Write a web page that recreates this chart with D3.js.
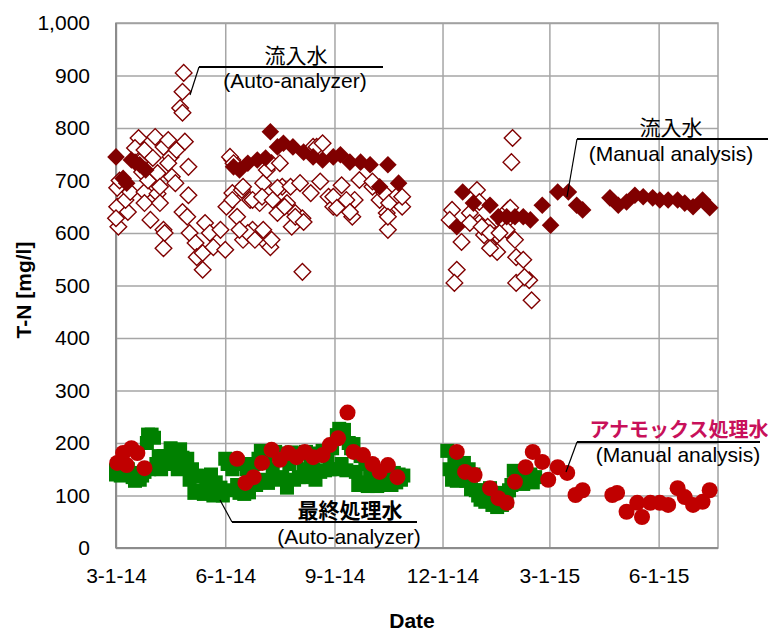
<!DOCTYPE html>
<html><head><meta charset="utf-8">
<script src="https://cdn.jsdelivr.net/npm/d3@7"></script>
<style>
html,body{margin:0;padding:0;background:#fff;}
svg{display:block;}
</style></head>
<body>
<svg id="chart" width="768" height="633"></svg>
<script>
// ---------------- DATA ----------------
const yTicks = [0,100,200,300,400,500,600,700,800,900,1000];
const xTickDates = ["2014-03-01","2014-06-01","2014-09-01","2014-12-01","2015-03-01","2015-06-01"];
const xDomain = ["2014-03-01","2015-07-21"];

// 流入水 (Auto-analyzer) – open diamonds
const influentAuto = [
 ["2014-03-02",686],["2014-03-02",650],["2014-03-03",612],["2014-03-01",628],["2014-03-04",700],["2014-03-11",640],
 ["2014-03-09",663],["2014-03-13",678],["2014-03-20",781],["2014-03-17",762],["2014-03-23",716],["2014-03-21",735],
 ["2014-03-25",758],["2014-03-25",678],["2014-03-25",657],["2014-03-30",625],["2014-03-28",700],["2014-04-01",743],
 ["2014-04-03",783],["2014-04-05",714],["2014-04-05",675],["2014-04-07",688],["2014-04-07",657],["2014-04-10",764],
 ["2014-04-10",606],["2014-04-10",571],["2014-04-11",600],["2014-04-14",777],["2014-04-16",745],["2014-04-14",733],
 ["2014-04-17",707],["2014-04-20",695],["2014-04-21",758],["2014-04-26",640],["2014-04-28",774],["2014-05-01",726],
 ["2014-05-01",672],["2014-04-30",631],["2014-05-02",600],["2014-05-07",581],["2014-05-08",554],["2014-05-13",530],
 ["2014-05-13",562],["2014-05-15",619],["2014-05-19",600],["2014-05-22",573],["2014-05-28",606],["2014-06-01",568],
 ["2014-06-02",650],["2014-06-07",676],["2014-06-07",739],["2014-06-05",745],["2014-06-08",733],["2014-06-15",682],
 ["2014-06-16",587],["2014-06-22",663],["2014-06-24",606],["2014-06-30",657],["2014-07-03",587],["2014-07-03",695],
 ["2014-07-09",573],["2014-04-27",905],["2014-04-26",869],["2014-04-24",838],["2014-04-26",829],
 ["2014-06-24",663],["2014-07-02",669],["2014-07-06",720],["2014-07-10",733],["2014-07-19",688],["2014-07-23",657],
 ["2014-07-30",638],["2014-07-27",612],["2014-08-05",628],["2014-08-05",526],["2014-08-14",764],["2014-08-20",698],
 ["2014-08-27",669],["2014-08-31",650],["2014-09-11",650],["2014-09-18",663],["2014-09-16",631],["2014-09-22",701],
 ["2014-10-03",688],["2014-10-09",663],["2014-10-15",638],["2014-10-16",606],["2014-10-23",663],["2014-06-20",600],
 ["2014-06-26",587],["2014-07-03",606],["2014-06-16",688],["2014-06-07",663],["2014-06-11",631],["2014-07-11",663],
 ["2014-07-15",638],["2014-08-17",764],["2014-08-22",771],["2014-08-12",676],["2014-06-13",606],["2014-07-17",733],
 ["2014-07-15",686],["2014-07-26",688],["2014-08-03",695],["2014-07-21",650],["2014-07-30",631],["2014-08-06",621],
 ["2014-08-31",669],["2014-09-07",691],["2014-09-11",663],["2014-09-03",648],["2014-09-14",640],["2014-10-03",698],
 ["2014-10-13",676],["2014-10-17",657],["2014-10-28",650],["2014-10-16",631],["2014-10-24",672],["2014-10-28",669],
 ["2014-07-10",587],
 ["2015-01-29",781],["2015-01-28",735],["2014-12-30",682],["2014-12-09",644],["2014-12-07",625],["2014-12-17",583],
 ["2014-12-13",530],["2014-12-11",505],["2014-12-24",638],["2015-01-01",619],["2015-01-05",596],["2015-01-11",573],
 ["2015-01-16",596],["2015-01-22",619],["2015-01-25",644],["2015-01-31",587],["2015-02-01",554],["2015-02-07",549],
 ["2015-02-12",510],["2015-02-01",505],["2015-02-14",472],["2015-02-08",516],["2014-12-24",619],["2015-01-08",612],
 ["2015-01-16",564],["2015-01-24",606],["2015-01-01",659],["2015-01-03",612],["2015-01-10",600],["2015-01-10",571],
 ["2015-01-18",600],["2015-01-27",648]
];

// 流入水 (Manual analysis) – filled diamonds
const influentManual = [
 ["2014-03-01",745],["2014-03-07",704],["2014-03-10",695],["2014-03-14",739],["2014-03-17",735],["2014-03-21",730],
 ["2014-03-26",720],
 ["2014-06-08",726],["2014-06-13",720],["2014-06-20",733],["2014-06-28",739],["2014-07-05",743],["2014-07-09",793],
 ["2014-07-15",764],["2014-07-20",771],["2014-07-28",764],["2014-08-06",754],["2014-08-14",745],["2014-08-22",739],
 ["2014-08-31",745],["2014-09-06",749],["2014-09-14",735],["2014-09-23",735],["2014-10-01",730],["2014-10-09",688],
 ["2014-10-16",730],["2014-10-25",695],
 ["2014-12-13",612],["2014-12-18",678],["2014-12-27",657],["2015-01-10",653],["2015-01-17",631],["2015-01-24",631],
 ["2015-01-31",631],["2015-02-07",631],["2015-02-13",625],["2015-02-23",653],["2015-03-02",615],["2015-03-08",678],
 ["2015-03-17",678],["2015-03-24",653],["2015-03-29",644],["2015-04-21",667],["2015-04-28",653],["2015-05-05",659],
 ["2015-05-12",672],["2015-05-19",669],["2015-05-27",667],["2015-06-02",663],["2015-06-09",663],["2015-06-17",663],
 ["2015-06-23",657],["2015-06-30",650],["2015-07-08",663],["2015-07-14",648]
];

// 最終処理水 (Auto-analyzer) – green squares
const finalAuto = [
 ["2014-03-01",140],["2014-03-01",148],["2014-03-03",142],["2014-03-05",138],["2014-03-07",145],["2014-03-09",140],
 ["2014-03-11",150],["2014-03-13",143],["2014-03-15",135],["2014-03-17",128],["2014-03-19",132],["2014-03-21",130],
 ["2014-03-23",138],["2014-03-25",145],["2014-03-27",200],["2014-03-28",216],["2014-03-29",150],["2014-03-31",216],
 ["2014-04-02",210],["2014-04-04",160],["2014-04-06",175],["2014-04-08",150],["2014-04-10",175],["2014-04-12",170],
 ["2014-04-14",160],["2014-04-16",190],["2014-04-18",185],["2014-04-20",165],["2014-04-22",150],["2014-04-24",188],
 ["2014-04-26",172],["2014-04-28",155],["2014-04-30",170],["2014-05-02",130],["2014-05-04",150],["2014-05-06",105],
 ["2014-05-08",138],["2014-05-10",110],["2014-05-12",137],["2014-05-14",103],["2014-05-16",130],["2014-05-18",108],
 ["2014-05-20",140],["2014-05-22",100],["2014-05-24",125],["2014-05-26",103],["2014-05-28",115],["2014-05-30",100],
 ["2014-06-01",170],["2014-06-03",160],["2014-06-05",110],["2014-06-07",150],["2014-06-09",168],["2014-06-11",120],
 ["2014-06-13",105],["2014-06-15",160],["2014-06-17",103],["2014-06-19",150],["2014-06-21",106],["2014-06-23",130],
 ["2014-06-25",160],["2014-06-27",120],["2014-06-29",170],["2014-07-01",185],["2014-07-03",130],["2014-07-05",175],
 ["2014-07-07",124],["2014-07-09",180],["2014-07-11",150],["2014-07-13",183],["2014-07-15",130],["2014-07-17",170],
 ["2014-07-19",135],["2014-07-21",180],["2014-07-23",115],["2014-07-25",160],["2014-07-27",182],["2014-07-29",130],
 ["2014-07-31",175],["2014-08-02",135],["2014-08-04",180],["2014-08-06",150],["2014-08-08",183],["2014-08-10",135],
 ["2014-08-12",175],["2014-08-14",150],["2014-08-16",130],["2014-08-18",180],["2014-08-20",145],["2014-08-22",185],
 ["2014-08-24",148],["2014-08-26",175],["2014-08-28",150],["2014-08-30",190],["2014-09-01",150],["2014-09-03",215],
 ["2014-09-05",227],["2014-09-07",160],["2014-09-09",225],["2014-09-11",148],["2014-09-13",200],["2014-09-15",190],
 ["2014-09-17",198],["2014-09-19",145],["2014-09-21",120],["2014-09-23",175],["2014-09-25",125],["2014-09-27",160],
 ["2014-09-29",118],["2014-10-01",150],["2014-10-03",120],["2014-10-05",140],["2014-10-07",118],["2014-10-09",130],
 ["2014-10-11",120],["2014-10-13",143],["2014-10-15",125],["2014-10-17",135],["2014-10-19",120],["2014-10-21",143],
 ["2014-10-23",125],["2014-10-25",140],["2014-10-27",130],["2014-10-29",138],
 ["2014-12-05",185],["2014-12-07",150],["2014-12-09",130],["2014-12-11",175],["2014-12-13",128],["2014-12-15",160],
 ["2014-12-17",140],["2014-12-19",162],["2014-12-21",128],["2014-12-23",150],["2014-12-25",112],["2014-12-27",140],
 ["2014-12-29",110],["2014-12-31",100],["2015-01-02",92],["2015-01-04",110],["2015-01-06",88],["2015-01-08",100],
 ["2015-01-10",114],["2015-01-12",82],["2015-01-14",95],["2015-01-16",78],["2015-01-18",105],["2015-01-20",82],
 ["2015-01-22",100],["2015-01-24",90],["2015-01-26",110],["2015-01-28",120],["2015-01-30",147],["2015-02-01",125],
 ["2015-02-03",145],["2015-02-05",130],["2015-02-07",122],["2015-02-09",145],["2015-02-11",130],["2015-02-13",140],
 ["2015-02-15",125],["2015-02-17",135]
];

// アナモックス処理水 (Manual analysis) – red circles
const anammoxManual = [
 ["2014-03-02",162],["2014-03-07",181],["2014-03-10",158],["2014-03-14",190],["2014-03-19",181],["2014-03-25",152],
 ["2014-06-11",170],["2014-06-18",124],["2014-06-25",135],["2014-07-02",162],["2014-07-10",187],["2014-07-17",168],
 ["2014-07-24",181],["2014-07-31",173],["2014-08-07",183],["2014-08-14",173],["2014-08-22",177],["2014-08-28",196],
 ["2014-09-04",209],["2014-09-12",258],["2014-09-17",183],["2014-09-25",177],["2014-10-03",160],["2014-10-09",145],
 ["2014-10-16",158],["2014-10-24",135],
 ["2014-12-13",183],["2014-12-20",145],["2014-12-28",139],["2015-01-10",114],["2015-01-17",95],["2015-01-24",86],
 ["2015-01-31",126],["2015-02-09",154],["2015-02-15",183],["2015-02-23",164],["2015-02-28",130],["2015-03-08",154],
 ["2015-03-16",143],["2015-03-23",101],["2015-03-29",110],["2015-04-23",101],["2015-04-27",105],["2015-05-05",69],
 ["2015-05-14",86],["2015-05-18",59],["2015-05-25",86],["2015-06-02",86],["2015-06-09",82],["2015-06-17",114],
 ["2015-06-23",97],["2015-06-30",82],["2015-07-08",88],["2015-07-14",110]
];

// ---------------- DRAW ----------------
const parse = d3.timeParse("%Y-%m-%d");
const svg = d3.select("#chart");
const M = {left:116, right:718, top:23, bottom:548};

const x = d3.scaleTime().domain(xDomain.map(parse)).range([M.left, M.right]);
const y = d3.scaleLinear().domain([0,1000]).range([M.bottom, M.top]);

const font = "'Liberation Sans', Arial, 'Noto Sans CJK JP', sans-serif";
const jfont = "'Noto Sans CJK JP', 'Liberation Sans', sans-serif";
const gridCol = "#a6a6a6";

// gridlines
const gy = svg.append("g").attr("transform",`translate(${M.left},0)`)
  .call(d3.axisLeft(y).tickValues(yTicks).tickSize(-(M.right-M.left)).tickFormat(""));
gy.select(".domain").remove();
gy.selectAll("line").attr("stroke",gridCol).attr("stroke-width",1.5);

const gx = svg.append("g").attr("transform",`translate(0,${M.bottom})`)
  .call(d3.axisBottom(x).tickValues(xTickDates.map(parse)).tickSize(-(M.bottom-M.top)).tickFormat(""));
gx.select(".domain").remove();
gx.selectAll("line").attr("stroke",gridCol).attr("stroke-width",1.5);

// plot border
svg.append("rect").attr("x",M.left).attr("y",M.top).attr("width",M.right-M.left).attr("height",M.bottom-M.top)
  .attr("fill","none").attr("stroke","#a0a0a0").attr("stroke-width",1.5);
svg.append("line").attr("x1",M.left).attr("x2",M.left).attr("y1",M.top).attr("y2",M.bottom)
  .attr("stroke","#8c8c8c").attr("stroke-width",2);
svg.append("line").attr("x1",M.left).attr("x2",M.right).attr("y1",M.bottom).attr("y2",M.bottom)
  .attr("stroke","#8c8c8c").attr("stroke-width",2);

// tick labels via axes
const yl = svg.append("g").attr("transform",`translate(${M.left},0)`)
  .call(d3.axisLeft(y).tickValues(yTicks).tickSize(0).tickPadding(26).tickFormat(d3.format(",")));
yl.select(".domain").remove();
yl.selectAll("text").attr("font-family",font).attr("font-size",21).attr("fill","#000");

const xl = svg.append("g").attr("transform",`translate(0,${M.bottom})`)
  .call(d3.axisBottom(x).tickValues(xTickDates.map(parse)).tickSize(0).tickPadding(20)
  .tickFormat(d3.timeFormat("%-m-%-d-%y")));
xl.select(".domain").remove();
xl.selectAll("text").attr("font-family",font).attr("font-size",21).attr("fill","#000");

// axis titles
svg.append("text").attr("x",412).attr("y",628).attr("text-anchor","middle")
  .attr("font-family",font).attr("font-size",21).attr("font-weight","bold").text("Date");
svg.append("text").attr("transform","translate(31,290) rotate(-90)").attr("text-anchor","middle")
  .attr("font-family",font).attr("font-size",21).attr("font-weight","bold").text("T-N [mg/l]");

// marks
const dia = (s)=>`M0,${-s}L${s},0L0,${s}L${-s},0Z`;
const plot = svg.append("g");
plot.selectAll(".ia").data(influentAuto).join("path")
  .attr("d",dia(8.3)).attr("transform",d=>`translate(${x(parse(d[0]))},${y(d[1])})`)
  .attr("fill","#fff").attr("stroke","#800000").attr("stroke-width",1.4);
plot.selectAll(".im").data(influentManual).join("path")
  .attr("d",dia(8.8)).attr("transform",d=>`translate(${x(parse(d[0]))},${y(d[1])})`)
  .attr("fill","#800000");
plot.selectAll(".fa").data(finalAuto).join("rect")
  .attr("x",d=>x(parse(d[0]))-7).attr("y",d=>y(d[1])-7).attr("width",14).attr("height",14)
  .attr("fill","#008000");
plot.selectAll(".am").data(anammoxManual).join("circle")
  .attr("cx",d=>x(parse(d[0]))).attr("cy",d=>y(d[1])).attr("r",8)
  .attr("fill","#c00000");

// annotations
const ann = svg.append("g");
function leader(pts, w){
  ann.append("path").attr("d",d3.line()(pts)).attr("fill","none").attr("stroke","#000").attr("stroke-width",w||1.2);
}
function hline(x1,x2,yy){
  ann.append("line").attr("x1",x1).attr("x2",x2).attr("y1",yy).attr("y2",yy).attr("stroke","#000").attr("stroke-width",2);
}
function label(tx,ty,str,opt){
  opt=opt||{};
  ann.append("text").attr("x",tx).attr("y",ty).attr("text-anchor","middle")
    .attr("font-family",opt.j?jfont:font).attr("font-size",opt.size||21)
    .attr("font-weight",opt.bold?"bold":"normal").attr("fill",opt.fill||"#000").text(str);
}
// 流入水 (Auto-analyzer)
leader([[190,95],[199,67]]); hline(199,383,67);
label(296,63,"流入水",{j:true,size:21});
label(295,88,"(Auto-analyzer)");
// 流入水 (Manual analysis)
leader([[567,197],[577,139]]); hline(577,768,139);
label(671,135,"流入水",{j:true,size:21});
label(671,161,"(Manual analysis)");
// 最終処理水 (Auto-analyzer)
leader([[220,500],[232,522]]); hline(232,417,522);
label(350,518,"最終処理水",{j:true,size:21,bold:true});
label(349,544,"(Auto-analyzer)");
// アナモックス処理水 (Manual analysis)
leader([[566,472],[577,442]]); hline(577,760,442);
label(679,437,"アナモックス処理水",{j:true,size:20,bold:true,fill:"#c8105a"});
label(678,462,"(Manual analysis)");
</script>
</body></html>
